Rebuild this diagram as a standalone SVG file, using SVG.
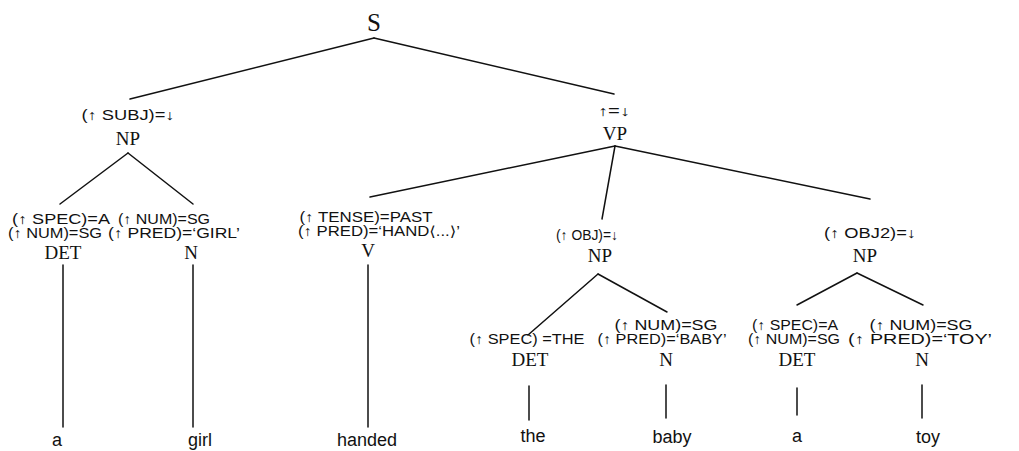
<svg xmlns="http://www.w3.org/2000/svg" width="1019" height="451" viewBox="0 0 1019 451">
<style>
.cat{font-family:"Liberation Serif","DejaVu Serif",serif;font-size:19px;fill:#111;text-anchor:middle}
.ann{font-family:"Liberation Sans","DejaVu Sans",sans-serif;font-size:14px;fill:#111;text-anchor:middle}
.word{font-family:"Liberation Sans","DejaVu Sans",sans-serif;font-size:18px;fill:#111;text-anchor:middle}
.edge{stroke:#111;stroke-width:1.5;fill:none;stroke-linecap:round}
</style>
<rect width="1019" height="451" fill="#fff"/>
<g id="connectors">
<line class="edge" x1="374" y1="38" x2="130" y2="99"/>
<line class="edge" x1="374" y1="38" x2="614" y2="94"/>
<line class="edge" x1="128" y1="153" x2="60" y2="204"/>
<line class="edge" x1="128" y1="153" x2="193" y2="204"/>
<line class="edge" x1="615" y1="146" x2="370" y2="197"/>
<line class="edge" x1="615" y1="146" x2="602" y2="219"/>
<line class="edge" x1="615" y1="146" x2="870" y2="199"/>
<line class="edge" x1="598" y1="274" x2="528" y2="335"/>
<line class="edge" x1="598" y1="274" x2="667" y2="312"/>
<line class="edge" x1="857" y1="273" x2="797" y2="305"/>
<line class="edge" x1="857" y1="273" x2="923" y2="305"/>
<line class="edge" x1="63" y1="265" x2="63" y2="427"/>
<line class="edge" x1="193" y1="265" x2="193" y2="427"/>
<line class="edge" x1="368" y1="265" x2="368" y2="427"/>
<line class="edge" x1="529" y1="386" x2="529" y2="420"/>
<line class="edge" x1="666" y1="385" x2="666" y2="418"/>
<line class="edge" x1="797" y1="388" x2="797" y2="415"/>
<line class="edge" x1="922" y1="385" x2="922" y2="418"/>
</g>
<g id="S"><text class="cat" x="374" y="31" style="font-size:25px">S</text></g>
<g id="NP-subj">
<text class="ann" x="128" y="120" textLength="93" lengthAdjust="spacingAndGlyphs">(↑ SUBJ)=↓</text>
<text class="cat" x="128" y="145">NP</text>
</g>
<g id="VP">
<text class="ann" x="614" y="116" textLength="32" lengthAdjust="spacingAndGlyphs">↑=↓</text>
<text class="cat" x="615" y="140">VP</text>
</g>
<g id="DET-a">
<text class="ann" x="61" y="224" textLength="98" lengthAdjust="spacingAndGlyphs">(↑ SPEC)=A</text>
<text class="ann" x="55" y="238" textLength="94" lengthAdjust="spacingAndGlyphs">(↑ NUM)=SG</text>
<text class="cat" x="63" y="259">DET</text>
</g>
<g id="N-girl">
<text class="ann" x="164" y="224" textLength="92" lengthAdjust="spacingAndGlyphs">(↑ NUM)=SG</text>
<text class="ann" x="174" y="238" textLength="132" lengthAdjust="spacingAndGlyphs">(↑ PRED)=‘GIRL’</text>
<text class="cat" x="191" y="259">N</text>
</g>
<g id="V-handed">
<text class="ann" x="366" y="222" textLength="133" lengthAdjust="spacingAndGlyphs">(↑ TENSE)=PAST</text>
<text class="ann" x="379" y="236" textLength="162" lengthAdjust="spacingAndGlyphs">(↑ PRED)=‘HAND⟨...⟩’</text>
<text class="cat" x="368" y="257">V</text>
</g>
<g id="NP-obj">
<text class="ann" x="587" y="240" textLength="62" lengthAdjust="spacingAndGlyphs">(↑ OBJ)=↓</text>
<text class="cat" x="600" y="262">NP</text>
</g>
<g id="NP-obj2">
<text class="ann" x="870" y="238" textLength="92" lengthAdjust="spacingAndGlyphs">(↑ OBJ2)=↓</text>
<text class="cat" x="865" y="262">NP</text>
</g>
<g id="DET-the">
<text class="ann" x="527" y="344" textLength="115" lengthAdjust="spacingAndGlyphs">(↑ SPEC) =THE</text>
<text class="cat" x="530" y="366">DET</text>
</g>
<g id="N-baby">
<text class="ann" x="666" y="330" textLength="103" lengthAdjust="spacingAndGlyphs">(↑ NUM)=SG</text>
<text class="ann" x="662" y="344" textLength="129" lengthAdjust="spacingAndGlyphs">(↑ PRED)=‘BABY’</text>
<text class="cat" x="666" y="366">N</text>
</g>
<g id="DET-a2">
<text class="ann" x="795" y="330" textLength="86" lengthAdjust="spacingAndGlyphs">(↑ SPEC)=A</text>
<text class="ann" x="794" y="344" textLength="92" lengthAdjust="spacingAndGlyphs">(↑ NUM)=SG</text>
<text class="cat" x="797" y="366">DET</text>
</g>
<g id="N-toy">
<text class="ann" x="921" y="330" textLength="103" lengthAdjust="spacingAndGlyphs">(↑ NUM)=SG</text>
<text class="ann" x="920" y="344" textLength="144" lengthAdjust="spacingAndGlyphs">(↑ PRED)=‘TOY’</text>
<text class="cat" x="922" y="366">N</text>
</g>
<g id="words">
<text class="word" x="57" y="446">a</text>
<text class="word" x="200" y="446">girl</text>
<text class="word" x="367" y="446">handed</text>
<text class="word" x="533" y="442">the</text>
<text class="word" x="672" y="443">baby</text>
<text class="word" x="797" y="442">a</text>
<text class="word" x="928" y="443">toy</text>
</g>
</svg>
